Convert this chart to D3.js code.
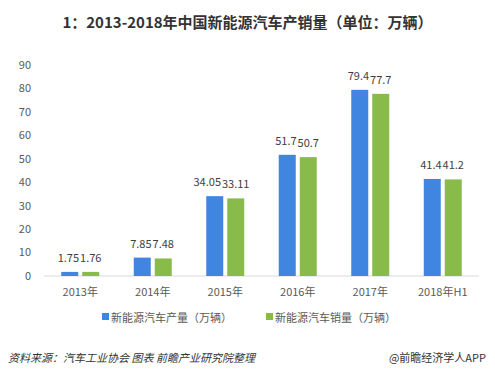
<!DOCTYPE html>
<html>
<head>
<meta charset="utf-8">
<script src="https://cdn.jsdelivr.net/npm/d3@7"></script>
<style>
  body { margin: 0; background: #fff; }
  svg { display: block; font-family: "Microsoft YaHei", "Noto Sans CJK SC", sans-serif; }
</style>
</head>
<body>
<svg id="chart" width="495" height="377"></svg>
<script>
// 数据
const years = ['2013年', '2014年', '2015年', '2016年', '2017年', '2018年H1'];
const production = [1.75, 7.85, 34.05, 51.7, 79.4, 41.4];
const sales = [1.76, 7.48, 33.11, 50.7, 77.7, 41.2];
const seriesNames = ['新能源汽车产量（万辆）', '新能源汽车销量（万辆）'];
const seriesColors = ['#4085e0', '#88bb4a'];
const yTicks = [0, 10, 20, 30, 40, 50, 60, 70, 80, 90];

const svg = d3.select('#chart');
const margin = { top: 65, right: 16, bottom: 101, left: 44 };
const W = 495, H = 377;
const width = W - margin.left - margin.right;
const height = H - margin.top - margin.bottom;

// 标题
svg.append('text')
  .attr('x', W / 2).attr('y', 28)
  .attr('text-anchor', 'middle')
  .style('font-size', '15px').style('font-weight', 'bold').style('fill', '#333')
  .text('1：2013-2018年中国新能源汽车产销量（单位：万辆）');

const g = svg.append('g').attr('transform', `translate(${margin.left},${margin.top})`);

const x = d3.scaleBand().domain(years).range([0, width]).padding(0);
const y = d3.scaleLinear().domain([0, 90]).range([height, 0]);
const barW = 17, gap = 4;

// y轴刻度
g.selectAll('.ytick').data(yTicks).enter().append('text')
  .attr('x', -13).attr('y', d => y(d)).attr('dy', '0.35em')
  .attr('text-anchor', 'end')
  .style('font-size', '11px').style('fill', '#595959')
  .text(d => d);

// 底部基线
g.append('line')
  .attr('x1', 0).attr('x2', width).attr('y1', height).attr('y2', height)
  .attr('stroke', '#d9d9d9');

const series = [production, sales];
series.forEach((vals, si) => {
  const off = si === 0 ? -barW - gap / 2 : gap / 2;
  g.selectAll('.bar' + si).data(vals).enter().append('rect')
    .attr('x', (d, i) => x(years[i]) + x.bandwidth() / 2 + off)
    .attr('y', d => y(d))
    .attr('width', barW)
    .attr('height', d => height - y(d))
    .attr('fill', seriesColors[si]);
});

// 数值标签：销量居中于柱子，产量标签避让
const cx = i => x(years[i]) + x.bandwidth() / 2;
const labStyle = sel => sel.style('font-size', '11px').style('fill', '#404040');
years.forEach((yr, i) => {
  const gl = g.append('text')
    .attr('x', cx(i) + gap / 2 + barW / 2)
    .attr('y', y(sales[i]) - 10)
    .attr('text-anchor', 'middle')
    .call(labStyle).text(sales[i]);
  const gStart = cx(i) + gap / 2 + barW / 2 - gl.node().getComputedTextLength() / 2;
  const bl = g.append('text')
    .attr('y', y(production[i]) - 10)
    .attr('text-anchor', 'end')
    .call(labStyle).text(production[i]);
  const bw = bl.node().getComputedTextLength();
  const natEnd = cx(i) - gap / 2 - barW / 2 + bw / 2;
  bl.attr('x', Math.min(natEnd, gStart - 1));
});

// x轴标签
g.selectAll('.xlab').data(years).enter().append('text')
  .attr('x', d => x(d) + x.bandwidth() / 2)
  .attr('y', height + 20)
  .attr('text-anchor', 'middle')
  .style('font-size', '11px').style('fill', '#595959')
  .text(d => d);

// 图例
const legendX = [102, 266];
seriesNames.forEach((name, i) => {
  const lg = svg.append('g').attr('transform', `translate(${legendX[i]},318)`);
  lg.append('rect').attr('x', 0).attr('y', -5).attr('width', 7).attr('height', 7).attr('fill', seriesColors[i]);
  lg.append('text').attr('x', 9).attr('y', 0).attr('dy', '0.35em')
    .style('font-size', '11px').style('fill', '#595959').text(name);
});

// 底部来源
svg.append('text')
  .attr('x', 8).attr('y', 362)
  .style('font-size', '11px').style('font-style', 'italic').style('fill', '#333')
  .text('资料来源：汽车工业协会 图表 前瞻产业研究院整理');
svg.append('text')
  .attr('x', 486).attr('y', 362).attr('text-anchor', 'end')
  .style('font-size', '11px').style('fill', '#333')
  .text('@前瞻经济学人APP');
</script>
</body>
</html>
